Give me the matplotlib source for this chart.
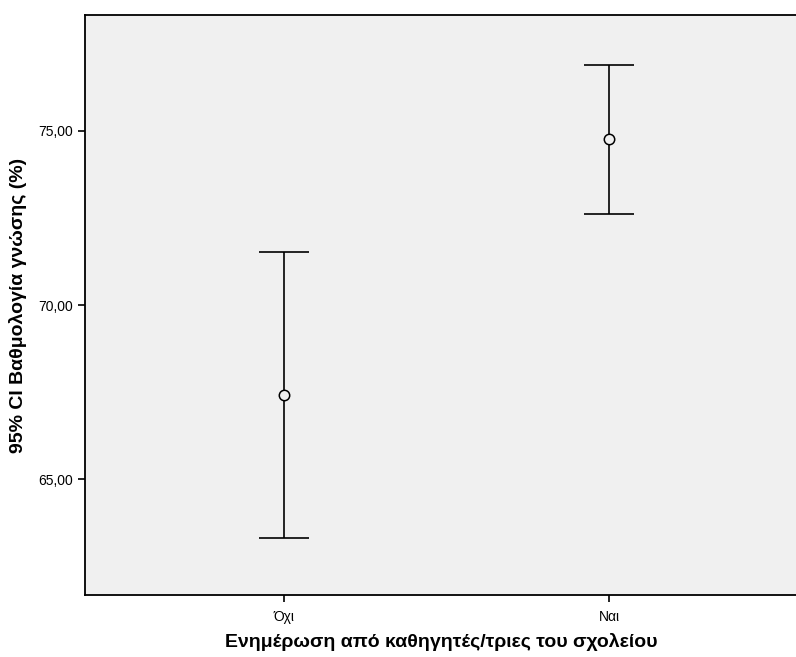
import matplotlib
matplotlib.use("Agg")
import matplotlib.pyplot as plt
import numpy as np

plt.rcParams['font.family'] = ['Liberation Sans', 'DejaVu Sans']

# 95% CI of knowledge score per group
groups = ["Όχι", "Ναι"]
means = [67.42, 74.77]
ci_low = [63.31, 72.62]
ci_high = [71.52, 76.89]
yticks = [65, 70, 75]

fig = plt.figure(figsize=(7.96, 6.57), dpi=100)
ax = fig.add_axes([0.1068, 0.0944, 0.8932 + 0.002, 0.977 - 0.0944])
ax.set_facecolor("#f0f0f0")

x = np.arange(1, len(groups) + 1)
means = np.array(means)
err = [means - np.array(ci_low), np.array(ci_high) - means]
ax.errorbar(x, means, yerr=err, fmt="none", ecolor="black", elinewidth=1.2,
            capsize=18, capthick=1.2, zorder=2)
ax.plot(x, means, "o", ms=7.5, mfc="#f0f0f0", mec="black", mew=1.1, zorder=3)

ax.set_xlim(0.386, 2.58)
ax.set_ylim(61.68, 78.32)
ax.set_xticks(x)
ax.set_xticklabels(groups)
ax.set_yticks(yticks)
ax.set_yticklabels([f"{v:.2f}".replace(".", ",") for v in yticks])
ax.tick_params(direction="out", length=5, width=1.2, labelsize=10, colors="black")
ax.tick_params(axis="x", pad=6)
for s in ax.spines.values():
    s.set_linewidth(1.3)

ax.set_xlabel("Ενημέρωση από καθηγητές/τριες του σχολείου", fontsize=14,
              fontweight="bold", labelpad=6)
ax.set_ylabel("95% CI Βαθμολογία γνώσης (%)", fontsize=14,
              fontweight="bold", labelpad=8)

fig.savefig("out.png", dpi=100)
